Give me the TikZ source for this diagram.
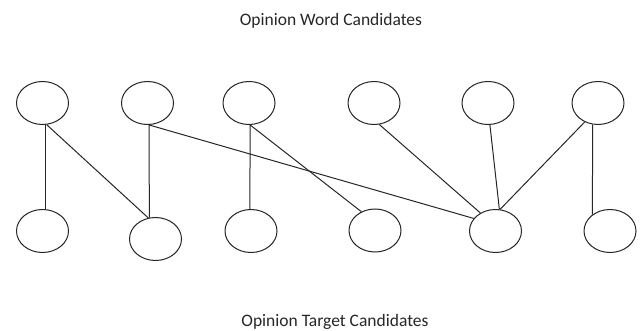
\documentclass[tikz,border=0pt]{standalone}
\usepackage{fontspec}
\setmainfont{Carlito}
\usetikzlibrary{shapes.geometric}
\tikzset{
  cand/.style={draw=black!85, line width=1pt, ellipse, minimum width=52pt, minimum height=43pt, inner sep=0pt},
  link/.style={draw=black!85, line width=1pt},
  caption/.style={anchor=base, inner sep=0pt, text=black!85, font=\fontsize{17.5pt}{20pt}\selectfont}
}
\begin{document}
\begin{tikzpicture}[x=1pt, y=-1pt]
\useasboundingbox (0,0) rectangle (644,331);
\node[caption] (top) at (331,26) {Opinion Word Candidates};
\node[caption] (bot) at (335,326) {Opinion Target Candidates};
\node[cand] (t1) at (42.5,103) {};
\node[cand] (t2) at (147.5,103) {};
\node[cand] (t3) at (249,103) {};
\node[cand] (t4) at (374,103) {};
\node[cand] (t5) at (488,103) {};
\node[cand] (t6) at (598,103) {};
\node[cand] (b1) at (42.5,231) {};
\node[cand] (b2) at (155.5,239) {};
\node[cand] (b3) at (251,231) {};
\node[cand] (b4) at (375,230.5) {};
\node[cand] (b5) at (495.5,231) {};
\node[cand] (b6) at (610,231) {};
\draw[link] (t1.-83) -- (b1.83);
\draw[link] (t1.-79) -- (b2.109);
\draw[link] (t2.-86) -- (b2.106);
\draw[link] (t2.-86) -- (b5.150);
\draw[link] (t3.-87) -- (b3.93);
\draw[link] (t3.-87) -- (b4.126);
\draw[link] (t4.-76) -- (b5.130);
\draw[link] (t5.-85) -- (b5.80);
\draw[link] (t6.-125) -- (b5.78);
\draw[link] (t6.-104) -- (b6.137);
\end{tikzpicture}
\end{document}
